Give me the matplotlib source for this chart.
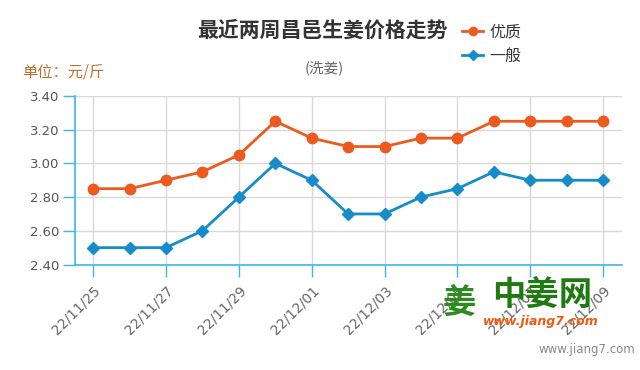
import matplotlib
matplotlib.use('Agg')
import matplotlib.pyplot as plt

plt.rcParams['font.family'] = ['Noto Sans CJK SC', 'DejaVu Sans']

dates = ['22/11/25', '22/11/26', '22/11/27', '22/11/28', '22/11/29', '22/11/30', '22/12/01',
         '22/12/02', '22/12/03', '22/12/04', '22/12/05', '22/12/06', '22/12/07', '22/12/08',
         '22/12/09']
good = [2.85, 2.85, 2.90, 2.95, 3.05, 3.25, 3.15, 3.10, 3.10, 3.15, 3.15, 3.25, 3.25, 3.25, 3.25]
normal = [2.50, 2.50, 2.50, 2.60, 2.80, 3.00, 2.90, 2.70, 2.70, 2.80, 2.85, 2.95, 2.90, 2.90, 2.90]
y_ticks = [2.40, 2.60, 2.80, 3.00, 3.20, 3.40]

orange = '#EC5A1F'
blue = '#168CC8'
axis_blue = '#3DB5E6'

fig = plt.figure(figsize=(6.4, 3.7), dpi=100)
ax = fig.add_axes([75 / 640, 1 - 264.5 / 370, (622 - 75) / 640, (264.5 - 96) / 370])

x = list(range(len(dates)))
l1, = ax.plot(x, good, color=orange, lw=2, marker='o', ms=7.5, label='优质', zorder=3)
l2, = ax.plot(x, normal, color=blue, lw=2, marker='D', ms=6, label='一般', zorder=3)

ax.set_xlim(-0.5, 14.52)
ax.set_ylim(2.40, 3.40)
ax.set_yticks(y_ticks)
ax.set_yticklabels([f'{v:.2f}' for v in y_ticks], fontsize=9.5, color='#555555', family='DejaVu Sans')
ax.set_xticks(x[::2])
ax.set_xticklabels(dates[::2], rotation=45, ha='right', rotation_mode='anchor',
                   fontsize=10, color='#666666', family='DejaVu Sans')
ax.tick_params(axis='both', color=axis_blue, length=8.5, width=1)
ax.tick_params(axis='x', pad=5)
ax.tick_params(axis='y', pad=3)
ax.grid(True, color='#D9D9D9', lw=1, zorder=0)
ax.set_axisbelow(True)
for s in ['top', 'right']:
    ax.spines[s].set_visible(False)
for s in ['left', 'bottom']:
    ax.spines[s].set_color(axis_blue)
    ax.spines[s].set_linewidth(1.2)

fig.text(322 / 640, 1 - 30 / 370, '最近两周昌邑生姜价格走势', ha='center', va='center',
         fontsize=15, fontweight='bold', color='#333333')
fig.text(324 / 640, 1 - 68 / 370, '(洗姜)', ha='center', va='center', fontsize=10.5, color='#666666')
fig.text(22 / 640, 1 - 72 / 370, '单位：元/斤', ha='left', va='center', fontsize=11, color='#C07030')

fig.legend(handles=[l1, l2], loc='upper left', bbox_to_anchor=(448 / 640, 1 - 9 / 370),
           frameon=False, fontsize=11.5, handlelength=1.3, handletextpad=0.4, labelspacing=0.45,
           markerscale=0.8, labelcolor='#333333')

# watermark
fig.text(459 / 640, 1 - 303 / 370, '姜', ha='center', va='center', fontsize=24,
         fontweight='bold', color='#2E8B1E', zorder=5)
fig.text(542 / 640, 1 - 295 / 370, '中姜网', ha='center', va='center', fontsize=24,
         fontweight='bold', color='#1F7A12', zorder=5)
fig.text(541 / 640, 1 - 322 / 370, 'www.jiang7.com', ha='center', va='center', fontsize=9,
         fontweight='bold', style='italic', color='#F05A10', family='DejaVu Sans', zorder=5)
fig.text(635 / 640, 1 - 350 / 370, 'www.jiang7.com', ha='right', va='center', fontsize=8.5,
         color='#888888', family='DejaVu Sans')

fig.savefig('out.png', dpi=100)
